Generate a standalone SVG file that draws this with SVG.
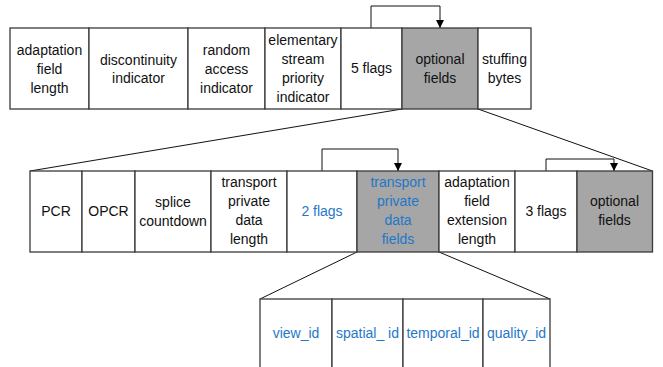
<svg xmlns="http://www.w3.org/2000/svg" width="663" height="367" viewBox="0 0 663 367">
  <defs>
    <marker id="arrow" viewBox="0 0 10 10" refX="10" refY="5" markerWidth="8" markerHeight="8" markerUnits="userSpaceOnUse" orient="auto">
      <path d="M0,0 L10,5 L0,10 z" fill="#000"/>
    </marker>
  </defs>
  <style>
    .box { fill: #ffffff; stroke: #3a3a3a; stroke-width: 1.3; }
    .opt { fill: #a6a6a6; stroke: #3a3a3a; stroke-width: 1.3; }
    .lbl { font-family: "Liberation Sans", Arial, sans-serif; font-size: 14px; fill: #111; text-anchor: middle; }
    .blue { fill: #1f78c8; }
    .wire { fill: none; stroke: #111; stroke-width: 1; }
  </style>
  <rect width="663" height="367" fill="#ffffff"/>

  <!-- expansion lines and flag arrows -->
  <g id="connectors">
    <line class="wire" x1="402" y1="109" x2="30" y2="171"/>
    <line class="wire" x1="478" y1="109" x2="652.5" y2="171"/>
    <line class="wire" x1="357" y1="252" x2="260" y2="299"/>
    <line class="wire" x1="439" y1="252" x2="550" y2="299"/>
    <polyline class="wire" points="371,28 371,6 440,6 440,28" marker-end="url(#arrow)"/>
    <polyline class="wire" points="322,171 322,149 398,149 398,171" marker-end="url(#arrow)"/>
    <polyline class="wire" points="546,171 546,159 614,159 614,171" marker-end="url(#arrow)"/>
  </g>

  <!-- adaptation field: top row -->
  <g id="adaptation-field-length">
    <rect class="box" x="10" y="28" width="79" height="81"/>
    <text class="lbl" x="49.5" y="55">adaptation</text>
    <text class="lbl" x="49.5" y="74">field</text>
    <text class="lbl" x="49.5" y="93">length</text>
  </g>
  <g id="discontinuity-indicator">
    <rect class="box" x="89" y="28" width="99" height="81"/>
    <text class="lbl" x="138.5" y="65">discontinuity</text>
    <text class="lbl" x="138.5" y="83">indicator</text>
  </g>
  <g id="random-access-indicator">
    <rect class="box" x="188" y="28" width="77" height="81"/>
    <text class="lbl" x="226.5" y="55">random</text>
    <text class="lbl" x="226.5" y="74">access</text>
    <text class="lbl" x="226.5" y="93">indicator</text>
  </g>
  <g id="es-priority-indicator">
    <rect class="box" x="265" y="28" width="76" height="81"/>
    <text class="lbl" x="303" y="45">elementary</text>
    <text class="lbl" x="303" y="64">stream</text>
    <text class="lbl" x="303" y="83">priority</text>
    <text class="lbl" x="303" y="102">indicator</text>
  </g>
  <g id="five-flags">
    <rect class="box" x="341" y="28" width="61" height="81"/>
    <text class="lbl" x="371.5" y="73">5 flags</text>
  </g>
  <g id="optional-fields">
    <rect class="opt" x="402" y="28" width="76" height="81"/>
    <text class="lbl" x="440" y="64">optional</text>
    <text class="lbl" x="440" y="83">fields</text>
  </g>
  <g id="stuffing-bytes">
    <rect class="box" x="478" y="28" width="53" height="81"/>
    <text class="lbl" x="504.5" y="64">stuffing</text>
    <text class="lbl" x="504.5" y="83">bytes</text>
  </g>

  <!-- optional fields: middle row -->
  <g id="pcr">
    <rect class="box" x="30" y="171" width="52" height="81"/>
    <text class="lbl" x="56" y="216">PCR</text>
  </g>
  <g id="opcr">
    <rect class="box" x="82" y="171" width="53" height="81"/>
    <text class="lbl" x="108.5" y="216">OPCR</text>
  </g>
  <g id="splice-countdown">
    <rect class="box" x="135" y="171" width="76" height="81"/>
    <text class="lbl" x="173" y="207">splice</text>
    <text class="lbl" x="173" y="226">countdown</text>
  </g>
  <g id="transport-private-data-length">
    <rect class="box" x="211" y="171" width="76" height="81"/>
    <text class="lbl" x="249" y="187">transport</text>
    <text class="lbl" x="249" y="206">private</text>
    <text class="lbl" x="249" y="225">data</text>
    <text class="lbl" x="249" y="244">length</text>
  </g>
  <g id="two-flags">
    <rect class="box" x="287" y="171" width="70" height="81"/>
    <text class="lbl blue" x="322" y="216">2 flags</text>
  </g>
  <g id="transport-private-data-fields">
    <rect class="opt" x="357" y="171" width="82" height="81"/>
    <text class="lbl blue" x="398" y="187">transport</text>
    <text class="lbl blue" x="398" y="206">private</text>
    <text class="lbl blue" x="398" y="225">data</text>
    <text class="lbl blue" x="398" y="244">fields</text>
  </g>
  <g id="af-extension-length">
    <rect class="box" x="439" y="171" width="76" height="81"/>
    <text class="lbl" x="477" y="187">adaptation</text>
    <text class="lbl" x="477" y="206">field</text>
    <text class="lbl" x="477" y="225">extension</text>
    <text class="lbl" x="477" y="244">length</text>
  </g>
  <g id="three-flags">
    <rect class="box" x="515" y="171" width="62" height="81"/>
    <text class="lbl" x="546" y="216">3 flags</text>
  </g>
  <g id="optional-fields-2">
    <rect class="opt" x="577" y="171" width="75.5" height="81"/>
    <text class="lbl" x="614.5" y="206">optional</text>
    <text class="lbl" x="614.5" y="225">fields</text>
  </g>

  <!-- transport private data fields: bottom row -->
  <g id="view-id">
    <rect class="box" x="260" y="299" width="72" height="90"/>
    <text class="lbl blue" x="296" y="338">view_id</text>
  </g>
  <g id="spatial-id">
    <rect class="box" x="332" y="299" width="71" height="90"/>
    <text class="lbl blue" x="367.5" y="338">spatial_ id</text>
  </g>
  <g id="temporal-id">
    <rect class="box" x="403" y="299" width="80" height="90"/>
    <text class="lbl blue" x="443" y="338">temporal_id</text>
  </g>
  <g id="quality-id">
    <rect class="box" x="483" y="299" width="67" height="90"/>
    <text class="lbl blue" x="516.5" y="338">quality_id</text>
  </g>
</svg>
